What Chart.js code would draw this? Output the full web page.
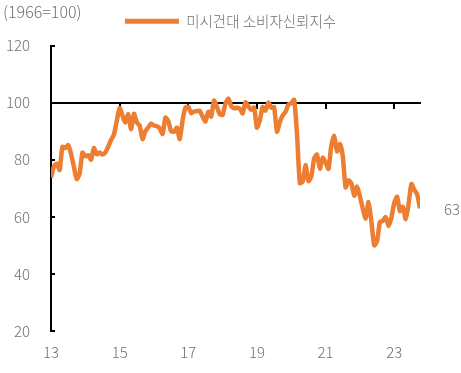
<!DOCTYPE html>
<html>
<head>
<meta charset="utf-8">
<script src="https://cdn.jsdelivr.net/npm/chart.js@4.4.0/dist/chart.umd.min.js"></script>
<style>
  html, body { margin: 0; padding: 0; background: #fff; }
  #wrap { width: 461px; height: 373px; }
</style>
</head>
<body>
<div id="wrap"><canvas id="chart" width="461" height="373"></canvas></div>
<script>
// University of Michigan consumer sentiment, monthly from Jan 2013 to Oct 2023
const seriesName = '미시건대 소비자신뢰지수';
const unitNote = '(1966=100)';
const startYear = 13;
const sentiment = [
  73.8, 77.6, 78.6, 76.4, 84.5, 84.1, 85.1, 82.1, 77.5, 73.2, 75.1, 82.5, // 2013
  81.2, 81.6, 80.0, 84.1, 81.9, 82.5, 81.8, 82.5, 84.6, 86.9, 88.8, 93.6, // 2014
  98.1, 95.4, 93.0, 95.9, 90.7, 96.1, 93.1, 91.9, 87.2, 90.0, 91.3, 92.6, // 2015
  92.0, 91.7, 91.0, 89.0, 94.7, 93.5, 90.0, 89.8, 91.2, 87.2, 93.8, 98.2, // 2016
  98.5, 96.3, 96.9, 97.0, 97.1, 95.1, 93.4, 96.8, 95.1, 100.7, 98.5, 95.9, // 2017
  95.7, 99.7, 101.4, 98.8, 98.0, 98.2, 97.9, 96.2, 100.1, 98.6, 97.5, 98.3, // 2018
  91.2, 93.8, 98.4, 97.2, 100.0, 98.2, 98.4, 89.8, 93.2, 95.5, 96.8, 99.3, // 2019
  99.8, 101.0, 89.1, 71.8, 72.3, 78.1, 72.5, 74.1, 80.4, 81.8, 76.9, 80.7, // 2020
  79.0, 76.8, 84.9, 88.3, 82.9, 85.5, 81.2, 70.3, 72.8, 71.7, 67.4, 70.6, // 2021
  67.2, 62.8, 59.4, 65.2, 58.4, 50.0, 51.5, 58.2, 58.6, 59.9, 56.8, 59.7, // 2022
  64.9, 67.0, 62.0, 63.5, 59.2, 64.4, 71.5, 69.5, 67.9, 63.0              // 2023
];
const lastLabel = '63';
const yTicks = [20, 40, 60, 80, 100, 120];
const baseLine = 100;

const orange = '#ED7D31';
const textGray = '#707070';
const font = '"Noto Sans CJK KR", "Noto Sans", sans-serif';

const points = sentiment.map((v, i) => ({ x: i, y: v }));
const lastIndex = sentiment.length - 1;

function yearLabel(value) {
  return String(startYear + value / 12);
}

// draws the unit note and the end value label
const extraText = {
  id: 'extraText',
  afterDraw(chart) {
    const ctx = chart.ctx;
    ctx.save();
    ctx.fillStyle = textGray;
    ctx.textBaseline = 'middle';
    ctx.textAlign = 'left';
    ctx.font = '300 16px ' + font;
    ctx.fillText(unitNote, 3, 12);
    ctx.font = '300 15px ' + font;
    const meta = chart.getDatasetMeta(0);
    const pt = meta.data[lastIndex];
    ctx.textAlign = 'center';
    ctx.fillText(lastLabel, pt.x + 32, chart.scales.y.getPixelForValue(sentiment[lastIndex]) + 1);
    ctx.restore();
  }
};

// empty axes used only to reserve space
const spacer = (pos, size) => ({
  type: 'linear',
  position: pos,
  display: true,
  min: 0,
  max: 1,
  border: { display: false },
  grid: { display: false, drawTicks: false },
  ticks: { display: false },
  afterFit: (scale) => {
    if (pos === 'top') scale.height = size; else scale.width = size;
  }
});

new Chart(document.getElementById('chart'), {
  type: 'line',
  data: {
    datasets: [{
      label: seriesName,
      data: points,
      borderColor: orange,
      backgroundColor: orange,
      borderWidth: 4.5,
      pointRadius: 0,
      tension: 0.2,
      xAxisID: 'x',
      yAxisID: 'y'
    }]
  },
  options: {
    responsive: false,
    animation: false,
    layout: { padding: { top: 4, right: 0, left: 0, bottom: 0 } },
    plugins: {
      tooltip: { enabled: false },
      legend: {
        display: true,
        position: 'top',
        labels: {
          color: textGray,
          font: { family: font, size: 14.5, weight: 300 },
          boxWidth: 54,
          boxHeight: 5,
          padding: 10,
          generateLabels: () => [{
            text: seriesName,
            fillStyle: orange,
            strokeStyle: orange,
            lineWidth: 0,
            fontColor: textGray,
            datasetIndex: 0
          }]
        }
      }
    },
    scales: {
      x: {
        type: 'linear',
        position: 'bottom',
        min: 0,
        max: lastIndex,
        border: { display: false },
        grid: { display: false, drawTicks: false },
        ticks: {
          stepSize: 24,
          includeBounds: false,
          autoSkip: false,
          maxRotation: 0,
          padding: 12,
          color: textGray,
          font: { family: font, size: 15, weight: 300 },
          callback: yearLabel
        },
        afterFit: (scale) => { scale.height = 42; }
      },
      x2: {
        type: 'linear',
        position: { y: baseLine },
        min: 0,
        max: lastIndex,
        border: { display: true, color: '#000', width: 2 },
        grid: { drawOnChartArea: false, drawTicks: true, tickLength: 5, color: '#000', lineWidth: 2 },
        ticks: { stepSize: 24, includeBounds: false, display: false }
      },
      xTop: spacer('top', 7),
      yRight: spacer('right', 41),
      y: {
        position: 'left',
        min: 20,
        max: 120,
        border: { display: true, color: '#000', width: 2 },
        grid: { drawOnChartArea: false, drawTicks: true, tickLength: -4, color: '#000', lineWidth: 2 },
        afterBuildTicks: (scale) => { scale.ticks = yTicks.map(v => ({ value: v })); },
        ticks: {
          padding: 25,
          color: textGray,
          font: { family: font, size: 15, weight: 300 }
        },
        afterFit: (scale) => { scale.width = 51; }
      }
    }
  },
  plugins: [extraText]
});
</script>
</body>
</html>
